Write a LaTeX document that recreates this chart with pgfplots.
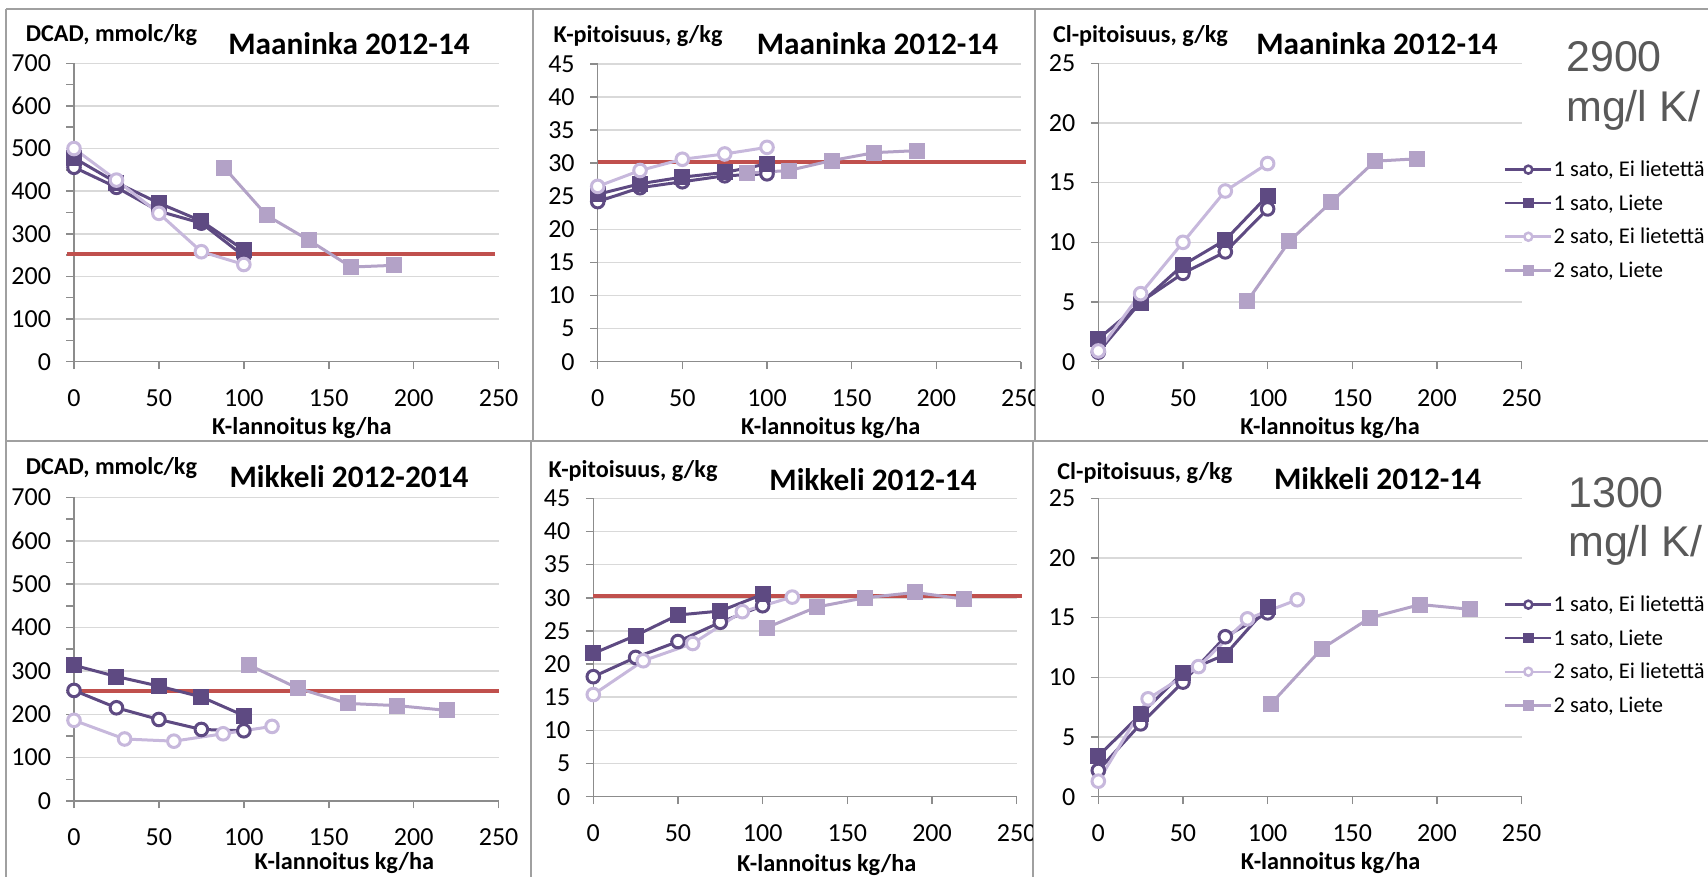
\documentclass[border=0pt]{standalone}
\usepackage{fontspec}
\setmainfont{Carlito}
\newfontfamily\arialf{Liberation Sans}
\usepackage{pgfplots}
\pgfplotsset{compat=1.18}
\definecolor{dk}{HTML}{5E4A82}
\definecolor{lt}{HTML}{B3A2C7}
\definecolor{ltc}{HTML}{C7B8DC}
\definecolor{rd}{HTML}{C0504D}
\definecolor{gridc}{HTML}{D9D9D9}
\definecolor{axc}{HTML}{8C8C8C}
\definecolor{brd}{HTML}{A0A0A0}
\definecolor{bigt}{HTML}{595959}
\newcommand\ttl{\fontsize{31.3}{31.3}\selectfont\bfseries}
\newcommand\xl{\fontsize{24.3}{24.3}\selectfont\bfseries}
\newcommand\yl{\fontsize{24.2}{24.2}\selectfont\bfseries}
\newcommand\bigf{\arialf\fontsize{43}{43}\selectfont\color{bigt}}
\pgfplotsset{
 panel/.style={scale only axis, anchor=south west,
   axis x line*=bottom, axis y line*=left,
   axis line style={-, axc, line width=1.5pt},
   tick align=outside, major tick length=7.5pt, minor tick length=7.5pt,
   tick style={axc, line width=1.5pt},
   ymajorgrids, major grid style={gridc, line width=1.5pt},
   xmin=0, xmax=250, xtick={0,50,...,250}, clip=false,
   ticklabel style={font=\fontsize{26}{26}\selectfont, text=black},
   xticklabel style={yshift=-17pt},
   yticklabel style={xshift=-12pt},
   /pgf/number format/assume math mode=true},
 s1/.style={dk, line width=3pt, mark=*, mark size=6.3pt, mark options={fill=white, draw=dk, solid}},
 s2/.style={dk, line width=3pt, mark=square*, mark size=6.5pt, mark options={fill=dk, draw=dk, solid}},
 s3/.style={ltc, line width=3pt, mark=*, mark size=6.3pt, mark options={fill=white, draw=ltc, solid}},
 s4/.style={lt, line width=3pt, mark=square*, mark size=6.5pt, mark options={fill=lt, draw=lt, solid}},
 redl/.style={rd, line width=4pt, forget plot},
 mylegend/.style={
   legend image code/.code={\draw[mark repeat=2,mark phase=2,##1, line width=2.5pt, mark size=4pt] plot coordinates {(0pt,0pt) (23pt,0pt) (46pt,0pt)};},
   legend cell align=left,
   legend style={at={(axis description cs:0.951,0.683)}, anchor=north west, draw=none, fill=none,
     font=\fontsize{22.5}{22.5}\selectfont, nodes={inner sep=1pt}, row sep=14.5pt}}
}
\begin{document}
\begin{tikzpicture}[x=1pt,y=1pt]
\useasboundingbox (0,0) rectangle (1708,877);
% panel frames
\draw[brd, line width=2pt] (6,867.5) -- (1708,867.5);
\draw[brd, line width=2.5pt] (6,436) -- (1708,436);
\draw[brd, line width=2pt] (6,867.5) -- (6,0);
\draw[brd, line width=2pt] (533,867.5) -- (533,436);
\draw[brd, line width=2pt] (1035,867.5) -- (1035,436);
\draw[brd, line width=2pt] (531,436) -- (531,0);
\draw[brd, line width=2pt] (1033,436) -- (1033,0);

% ---------- Panel 1: DCAD Maaninka ----------
\begin{scope}
\clip (7,437) rectangle (532,866.5);
\begin{axis}[panel, at={(74pt,515.3pt)}, width=424.6pt, height=298.4pt,
  ymin=0, ymax=700, ytick={0,100,...,700}, minor y tick num=1]
\addplot[redl] coordinates {(-4,252.6) (248,252.6)};
\addplot[s1] coordinates {(0,456) (25,409) (50,353) (75,325) (100,248)};
\addplot[s2] coordinates {(0,478) (25,420) (50,372) (75,330) (100,262)};
\addplot[s3] coordinates {(0,500) (25,426) (50,348) (75,258) (100,228)};
\addplot[s4] coordinates {(88.5,455) (113.5,343) (138.3,285) (163.2,222) (188.2,226)};
\end{axis}
\node[anchor=base west] at (22.4,835.3) {\yl DCAD, mmolc/kg};
\node[anchor=base] at (349,822) {\ttl Maaninka 2012-14};
\node[anchor=base] at (301.8,442) {\xl K-lannoitus kg/ha};
\end{scope}

% ---------- Panel 2: K Maaninka ----------
\begin{scope}
\clip (534,437) rectangle (1034,866.5);
\begin{axis}[panel, at={(597.7pt,515.3pt)}, width=423.3pt, height=297.7pt,
  ymin=0, ymax=45, ytick={0,5,...,45}]
\addplot[redl] coordinates {(0,30.15) (253,30.15)};
\addplot[s1] coordinates {(0,24.2) (25,26.3) (50,27.2) (75,28.1) (100,28.4)};
\addplot[s2] coordinates {(0,25.3) (25,26.9) (50,27.9) (75,28.6) (100,29.9)};
\addplot[s3] coordinates {(0,26.5) (25,28.9) (50,30.6) (75,31.4) (100,32.4)};
\addplot[s4] coordinates {(88.4,28.5) (112.8,28.9) (138.2,30.4) (163.4,31.6) (188.4,31.9)};
\end{axis}
\node[anchor=base west] at (550,834.3) {\yl K-pitoisuus, g/kg};
\node[anchor=base] at (877.5,822) {\ttl Maaninka 2012-14};
\node[anchor=base] at (830.7,442) {\xl K-lannoitus kg/ha};
\end{scope}

% ---------- Panel 3: Cl Maaninka ----------
\begin{scope}
\clip (1036,437) rectangle (1708,866.5);
\begin{axis}[panel, mylegend, at={(1098.3pt,515.3pt)}, width=423.3pt, height=298.4pt,
  ymin=0, ymax=25, ytick={0,5,...,25}]
\addplot[s1] coordinates {(0,0.8) (25,5.0) (50,7.4) (75,9.2) (100,12.8)};
\addlegendentry{1 sato, Ei lietettä}
\addplot[s2] coordinates {(0,1.9) (25,4.9) (50,8.1) (75,10.2) (100,13.9)};
\addlegendentry{1 sato, Liete}
\addplot[s3] coordinates {(0,0.9) (25,5.7) (50,10.0) (75,14.3) (100,16.6)};
\addlegendentry{2 sato, Ei lietettä}
\addplot[s4] coordinates {(88.1,5.1) (112.9,10.1) (137.7,13.4) (163.4,16.8) (188.5,17.0)};
\addlegendentry{2 sato, Liete}
\end{axis}
\node[anchor=base west] at (1049.5,834.3) {\yl Cl-pitoisuus, g/kg};
\node[anchor=base] at (1377,822) {\ttl Maaninka 2012-14};
\node[anchor=base] at (1330,442) {\xl K-lannoitus kg/ha};
\node[anchor=base west, inner sep=0pt] at (1566,805.3) {\bigf 2900};
\node[anchor=base west, inner sep=0pt] at (1566,755.3) {\bigf mg/l K/};
\end{scope}

% ---------- Panel 4: DCAD Mikkeli ----------
\begin{scope}
\clip (7,0) rectangle (530,435);
\begin{axis}[panel, at={(74pt,76pt)}, width=424.6pt, height=303.5pt,
  ymin=0, ymax=700, ytick={0,100,...,700}, minor y tick num=1]
\addplot[redl] coordinates {(-4,253) (250,253)};
\addplot[s1] coordinates {(0,255) (25,215) (50,188) (75,165) (100,162)};
\addplot[s2] coordinates {(0,313) (25,287) (50,265) (75,240) (100,197)};
\addplot[s3] coordinates {(0,186) (29.8,143) (58.8,138) (87.8,155) (116.6,172)};
\addplot[s4] coordinates {(102.8,314) (131.8,260) (161.2,225) (190.2,220) (219.4,209)};
\end{axis}
\node[anchor=base west] at (22.4,402) {\yl DCAD, mmolc/kg};
\node[anchor=base] at (349,389) {\ttl Mikkeli 2012-2014};
\node[anchor=base] at (344.4,7) {\xl K-lannoitus kg/ha};
\end{scope}

% ---------- Panel 5: K Mikkeli ----------
\begin{scope}
\clip (532,0) rectangle (1032,435);
\begin{axis}[panel, at={(593.3pt,80.3pt)}, width=423.4pt, height=298.4pt,
  ymin=0, ymax=45, ytick={0,5,...,45}]
\addplot[redl] coordinates {(0,30.2) (253,30.2)};
\addplot[s1] coordinates {(0,18.1) (25,21.0) (50,23.4) (75,26.3) (100,28.8)};
\addplot[s2] coordinates {(0,21.6) (25,24.3) (50,27.4) (75,28.0) (100,30.5)};
\addplot[s3] coordinates {(0,15.4) (29.5,20.5) (58.7,23.1) (88,27.9) (117.5,30.1)};
\addplot[s4] coordinates {(102.4,25.5) (131.9,28.6) (160.4,30.0) (190,30.8) (218.9,29.8)};
\end{axis}
\node[anchor=base west] at (545,399) {\yl K-pitoisuus, g/kg};
\node[anchor=base] at (873,386.3) {\ttl Mikkeli 2012-14};
\node[anchor=base] at (826.7,5.3) {\xl K-lannoitus kg/ha};
\end{scope}

% ---------- Panel 6: Cl Mikkeli ----------
\begin{scope}
\clip (1034,0) rectangle (1708,435);
\begin{axis}[panel, mylegend, at={(1098.3pt,80.3pt)}, width=423.3pt, height=298.4pt,
  ymin=0, ymax=25, ytick={0,5,...,25}]
\addplot[s1] coordinates {(0,2.2) (25,6.1) (50,9.6) (75,13.4) (100,15.4)};
\addlegendentry{1 sato, Ei lietettä}
\addplot[s2] coordinates {(0,3.4) (25,6.9) (50,10.4) (75,11.9) (100,15.9)};
\addlegendentry{1 sato, Liete}
\addplot[s3] coordinates {(0,1.3) (29.4,8.2) (59.2,10.9) (88.1,14.9) (117.5,16.5)};
\addlegendentry{2 sato, Ei lietettä}
\addplot[s4] coordinates {(102.1,7.8) (132,12.4) (160.6,15.0) (190.2,16.1) (219.4,15.7)};
\addlegendentry{2 sato, Liete}
\end{axis}
\node[anchor=base west] at (1053.8,397) {\yl Cl-pitoisuus, g/kg};
\node[anchor=base] at (1377.6,387) {\ttl Mikkeli 2012-14};
\node[anchor=base] at (1330.6,7) {\xl K-lannoitus kg/ha};
\node[anchor=base west, inner sep=0pt] at (1568,369) {\bigf 1300};
\node[anchor=base west, inner sep=0pt] at (1568,320.3) {\bigf mg/l K/};
\end{scope}
\end{tikzpicture}
\end{document}
